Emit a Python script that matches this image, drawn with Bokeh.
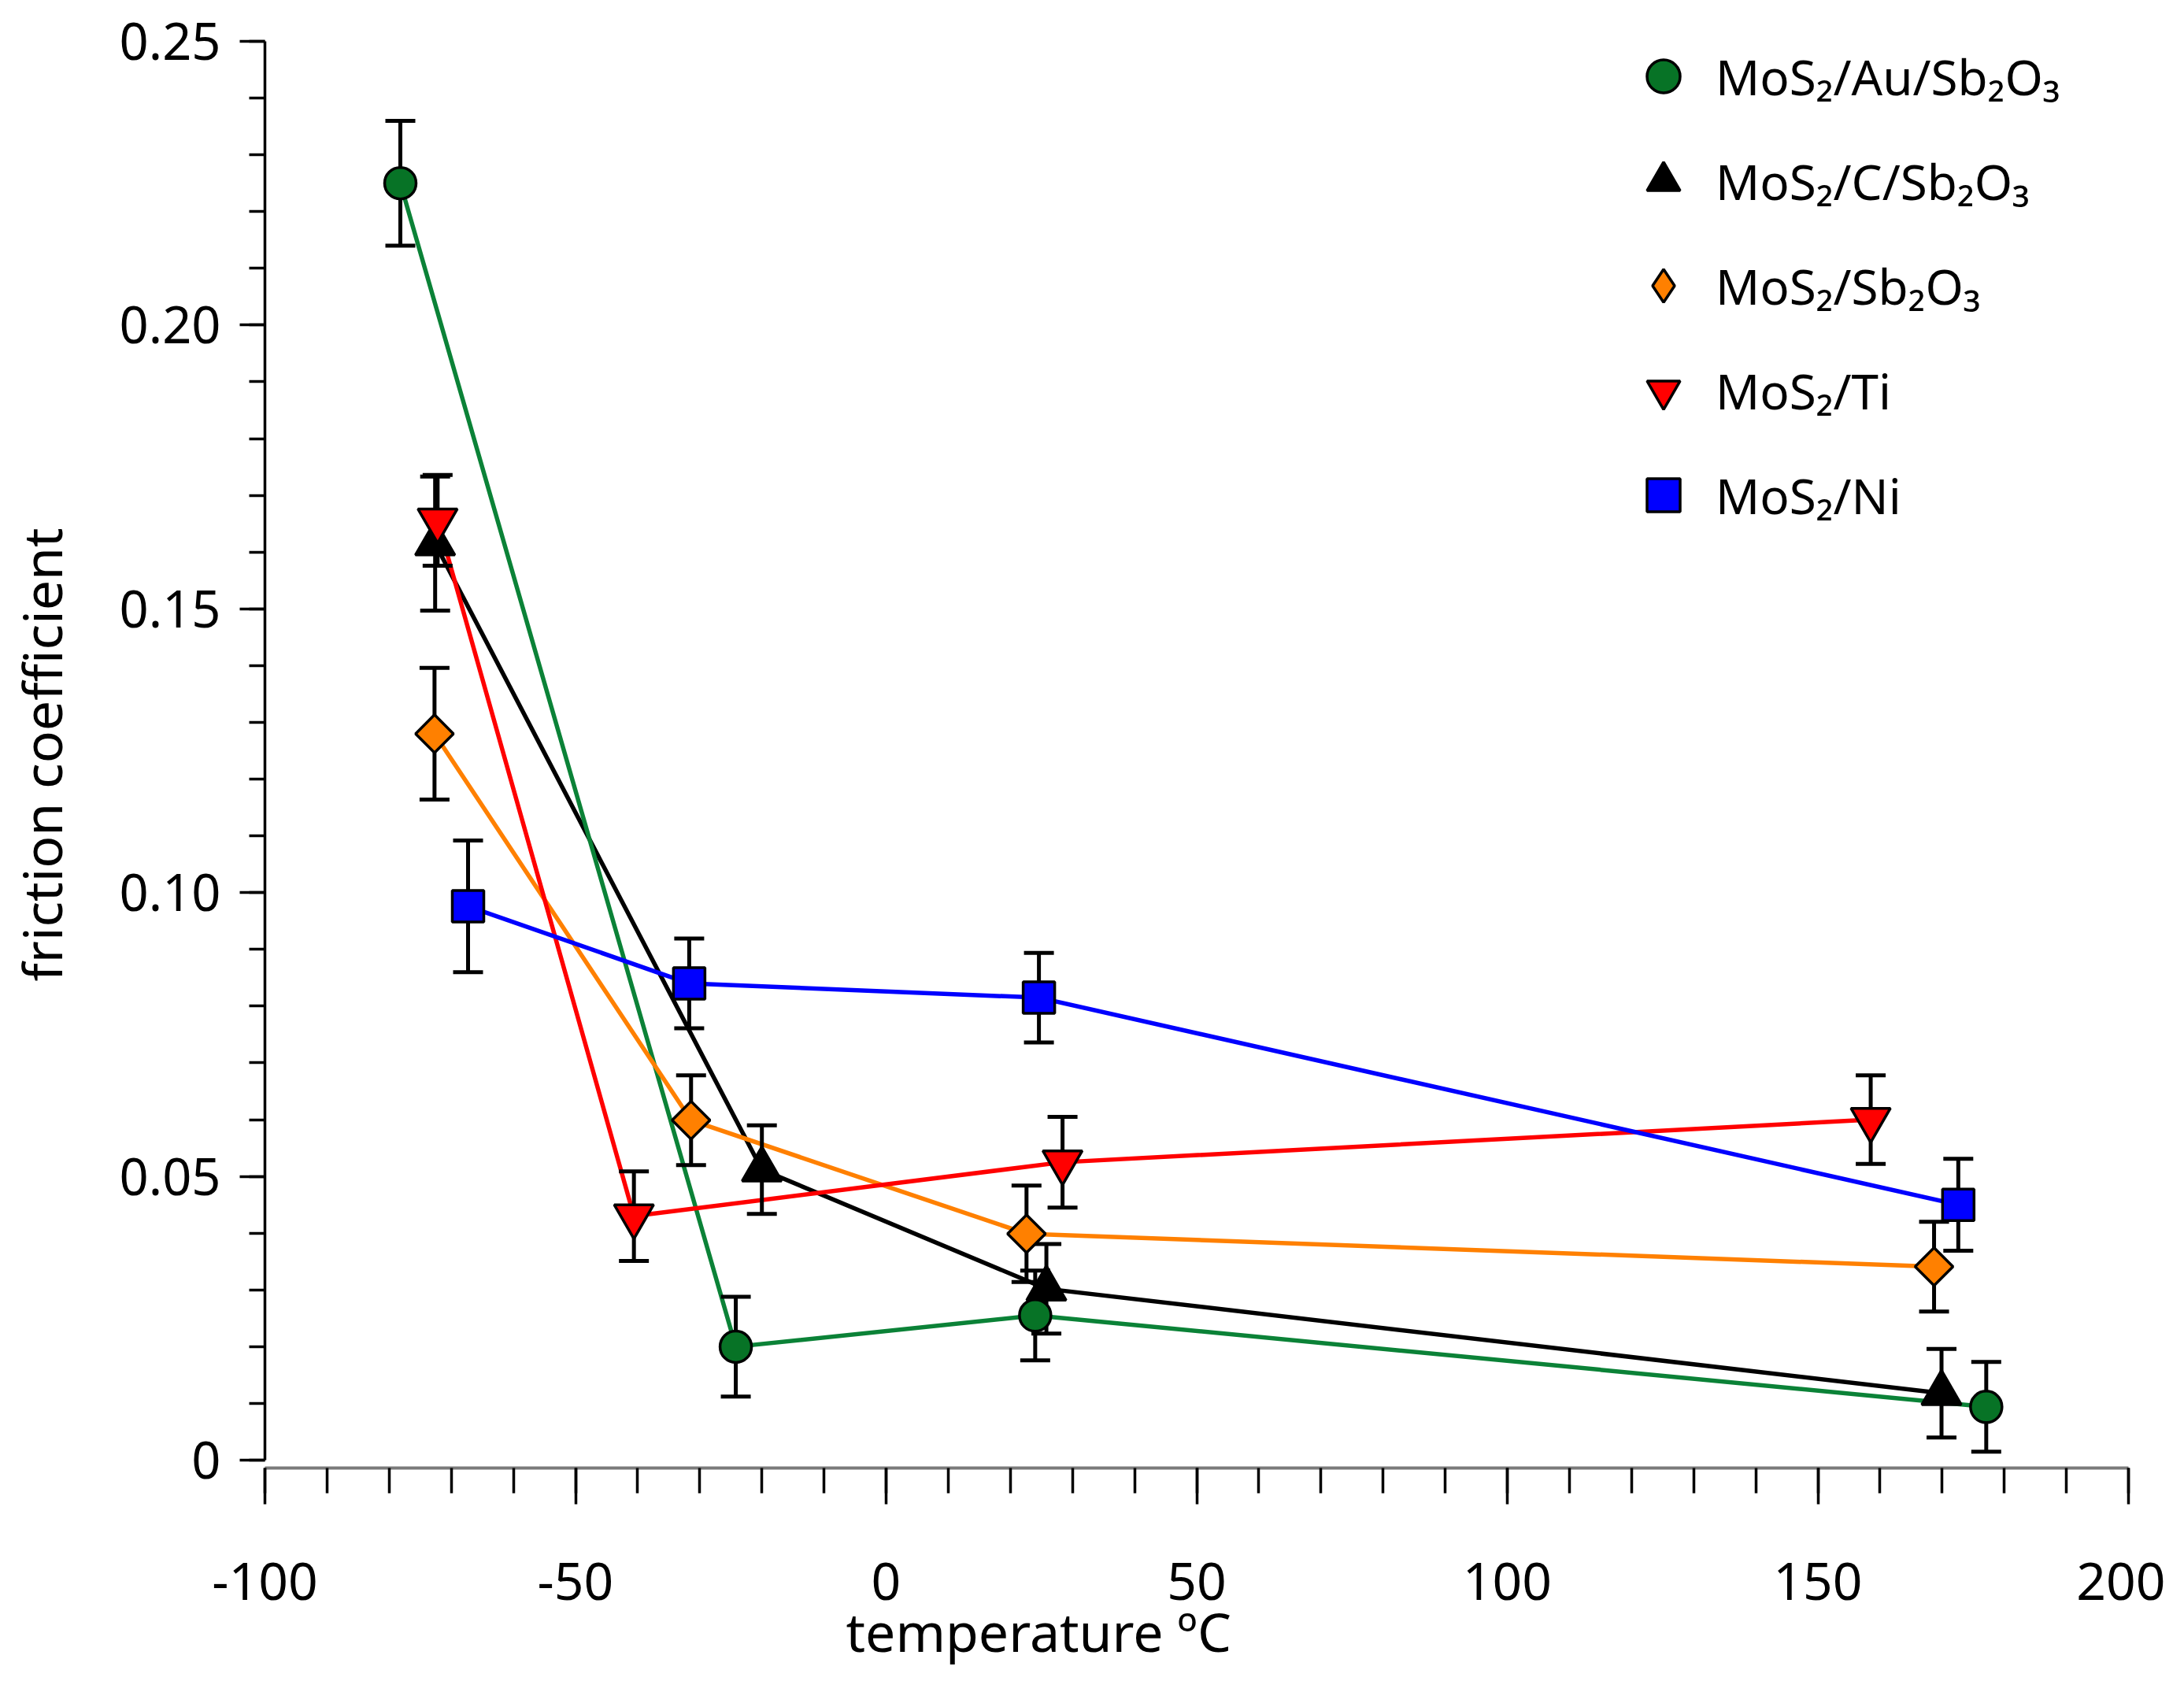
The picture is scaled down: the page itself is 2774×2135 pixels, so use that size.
import math
from bokeh.plotting import figure
from bokeh.models import (Range1d, FixedTicker, Legend, LegendItem, Title,
                          NumeralTickFormatter, ColumnDataSource)
from bokeh.embed import file_html
from bokeh.resources import INLINE

# ---------------- data ----------------
series_names = ["MoS₂/Au/Sb₂O₃", "MoS₂/C/Sb₂O₃", "MoS₂/Sb₂O₃", "MoS₂/Ti", "MoS₂/Ni"]

temp_au = [-78.2, -24.2, 24.0, 177.1]
mu_au = [0.2250, 0.0200, 0.0255, 0.0094]
err_au = [0.0110, 0.0088, 0.0079, 0.0079]

temp_c = [-72.6, -20.0, 25.8, 169.9]
mu_c = [0.1615, 0.0512, 0.0302, 0.0118]
err_c = [0.0118, 0.0078, 0.0079, 0.0078]

temp_sb = [-72.7, -31.4, 22.6, 168.7]
mu_sb = [0.1280, 0.0599, 0.0399, 0.0341]
err_sb = [0.0116, 0.0079, 0.0085, 0.0079]

temp_ti = [-72.2, -40.6, 28.4, 158.5]
mu_ti = [0.1656, 0.0430, 0.0525, 0.0600]
err_ti = [0.0080, 0.0079, 0.0080, 0.0078]

temp_ni = [-67.3, -31.7, 24.6, 172.6]
mu_ni = [0.0976, 0.0840, 0.0815, 0.0450]
err_ni = [0.0116, 0.0079, 0.0079, 0.0081]

x_major = [-100, -50, 0, 50, 100, 150, 200]
y_major = [0, 0.05, 0.10, 0.15, 0.20, 0.25]

# ---------------- figure ----------------
FONT = "Noto Sans"
W, H = 2750, 2117
p = figure(width=W, height=H, output_backend="svg", toolbar_location=None,
           x_range=Range1d(-100, 200), y_range=Range1d(-0.00138, 0.25),
           min_border_left=336, min_border_right=47, min_border_top=52,
           min_border_bottom=253)
p.outline_line_color = None
p.xgrid.visible = False
p.ygrid.visible = False
p.background_fill_color = "white"
p.border_fill_color = "white"

# y axis
ya = p.yaxis[0]
ya.ticker = FixedTicker(ticks=y_major,
                        minor_ticks=[i / 100 for i in range(0, 26)])
ya.formatter = NumeralTickFormatter(format="0.00")
ya.major_label_overrides = {0: "0"}
ya.bounds = (0, 0.25)
ya.axis_line_color = "black"
ya.axis_line_width = 3.5
ya.major_tick_line_width = 3.5
ya.minor_tick_line_width = 3.5
ya.major_tick_line_color = "black"
ya.minor_tick_line_color = "black"
ya.major_tick_in = 0
ya.minor_tick_in = 0
ya.major_tick_out = 32
ya.minor_tick_out = 20
ya.major_label_text_font = FONT
ya.major_label_text_font_size = "65px"
ya.major_label_text_color = "black"
ya.major_label_standoff = 24
ya.axis_label = "friction coefficient"
ya.axis_label_text_font = FONT
ya.axis_label_text_font_size = "68px"
ya.axis_label_text_font_style = "normal"
ya.axis_label_text_color = "black"
ya.axis_label_standoff = 50

# x axis
xa = p.xaxis[0]
xa.ticker = FixedTicker(ticks=x_major, minor_ticks=list(range(-100, 201, 10)))
xa.major_label_overrides = {v: str(v) for v in x_major}
xa.bounds = (-100, 200)
xa.axis_line_color = "#7a7a7a"
xa.axis_line_width = 4
xa.major_tick_line_width = 3.5
xa.minor_tick_line_width = 3.5
xa.major_tick_line_color = "black"
xa.minor_tick_line_color = "black"
xa.major_tick_in = 0
xa.minor_tick_in = 0
xa.major_tick_out = 46
xa.minor_tick_out = 32
xa.major_label_text_font = FONT
xa.major_label_text_font_size = "66px"
xa.major_label_text_color = "black"
xa.major_label_standoff = 74

p.add_layout(Title(text="temperature ºC", align="left", offset=738,
                   standoff=-24, text_font=FONT, text_font_size="68px",
                   text_font_style="normal", text_color="black"), "below")

# ---------------- series ----------------
series = [
    # name index, temps, values, errors, colour, line colour, marker, size, angle
    (1, temp_c, mu_c, err_c, "black", "black", "triangle", 50, 0.0),
    (0, temp_au, mu_au, err_au, "#077326", "#0b8237", "circle", 40, 0.0),
    (2, temp_sb, mu_sb, err_sb, "#ff8000", "#ff8000", "square", 34, math.pi / 4),
    (3, temp_ti, mu_ti, err_ti, "#ff0000", "#ff0000", "inverted_triangle", 50, 0.0),
    (4, temp_ni, mu_ni, err_ni, "#0000ff", "#0000ff", "square", 40, 0.0),
]

sources = []
for idx, t, m, e, col, lcol, mk, sz, ang in series:
    src = ColumnDataSource(dict(t=t, m=m,
                                lo=[a - b for a, b in zip(m, e)],
                                hi=[a + b for a, b in zip(m, e)]))
    sources.append(src)

# connecting lines
for (idx, t, m, e, col, lcol, mk, sz, ang), src in zip(series, sources):
    p.line("t", "m", source=src, line_color=lcol, line_width=5.5)

# error bars
for (idx, t, m, e, col, lcol, mk, sz, ang), src in zip(series, sources):
    p.segment(x0="t", y0="lo", x1="t", y1="hi", source=src,
              line_color="black", line_width=5)
    p.scatter("t", "hi", source=src, marker="dash", size=38,
              line_color="black", line_width=5)
    p.scatter("t", "lo", source=src, marker="dash", size=38,
              line_color="black", line_width=5)

# legend swatch for the diamond series (legend glyphs are drawn unrotated);
# drawn small underneath the rotated squares so it stays hidden in the plot
diamond_proxy = p.scatter("t", "m", source=sources[2], marker="diamond", size=20,
                          fill_color="#ff8000", line_color="black", line_width=3.5)

# markers
marker_renderers = {}
for (idx, t, m, e, col, lcol, mk, sz, ang), src in zip(series, sources):
    r = p.scatter("t", "m", source=src, marker=mk, size=sz, angle=ang,
                  fill_color=col, line_color="black", line_width=3.5)
    marker_renderers[idx] = r

legend_renderers = dict(marker_renderers)
legend_renderers[2] = diamond_proxy

legend = Legend(items=[LegendItem(label=series_names[i], renderers=[legend_renderers[i]])
                       for i in range(5)],
                location=(1724, 1183), orientation="vertical",
                glyph_width=105, glyph_height=105, spacing=28,
                label_standoff=14, padding=0, margin=0,
                label_text_font=FONT, label_text_font_size="62px",
                label_text_color="black",
                border_line_alpha=0, background_fill_alpha=0)
p.add_layout(legend, "center")

open("out.html", "w").write(file_html(p, INLINE))
